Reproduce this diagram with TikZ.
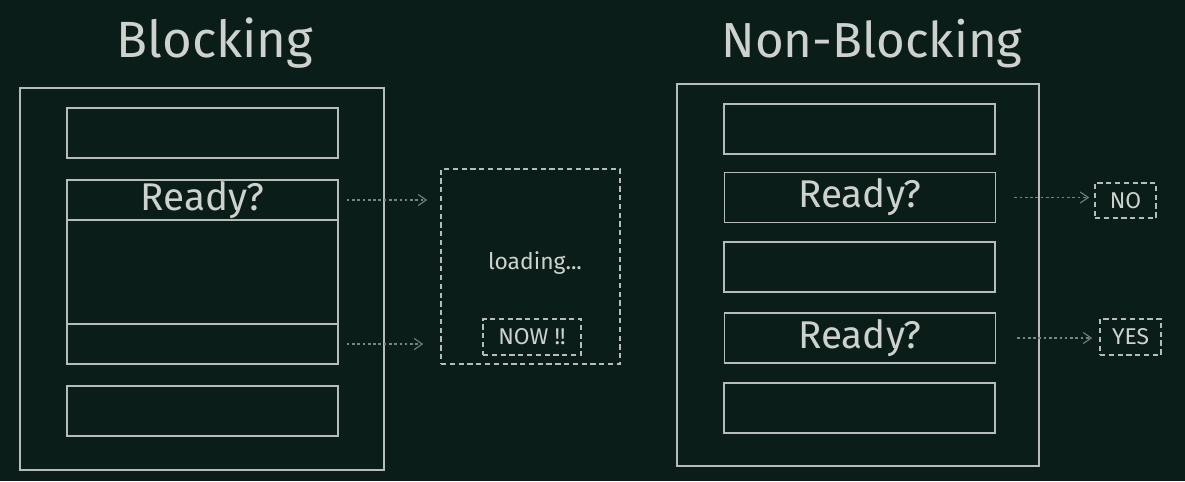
\documentclass[tikz,border=0pt]{standalone}
\usepackage{fontspec}
\setmainfont{Fira Sans}
\usetikzlibrary{arrows.meta, positioning}
\definecolor{mybg}{RGB}{11,29,24}
\definecolor{myline}{RGB}{182,188,184}
\definecolor{myarrow}{RGB}{118,134,128}
\definecolor{mytext}{RGB}{206,210,206}
\tikzset{
  frame/.style={draw=myline, line width=1pt},
  row/.style={rectangle, draw=myline, line width=1pt, inner sep=0pt,
    minimum width=5.42cm, minimum height=1cm, text=mytext,
    font=\fontsize{22}{26}\selectfont},
  waitbox/.style={rectangle, draw=myline, line width=1pt, inner sep=0pt,
    dash pattern=on 3pt off 2pt},
  tag/.style={rectangle, draw=myline, line width=1pt, inner sep=0pt,
    dash pattern=on 3pt off 2pt, minimum width=1.22cm, minimum height=0.7cm,
    text=mytext, font=\fontsize{13}{15}\selectfont},
  dotarrow/.style={-{Straight Barb[length=1.6mm, width=2.2mm]}, draw=myarrow,
    line width=0.6pt, dash pattern=on 1.5pt off 1.5pt},
  title/.style={text=mytext, anchor=base, font=\fontsize{29}{34}\selectfont}
}

\begin{document}
\begin{tikzpicture}[x=0.02cm, y=-0.02cm]
  \useasboundingbox[fill=mybg] (0,0) rectangle (1185,481);

  % --- BLOCKING ---
  \node[title] (b_title) at (215,57) {Blocking};
  \draw[frame] (20,88) rectangle (384,470);

  \node[row] (b_top) at (202.5,133) {};
  \node[row, minimum height=0.8cm] (b_ready) at (202.5,200) {Ready?};
  \node[row, minimum height=2.08cm] (b_mid) at (202.5,272) {};
  \node[row, minimum height=0.8cm] (b_now) at (202.5,344) {};
  \node[row] (b_bot) at (202.5,411) {};

  \node[waitbox, minimum width=3.58cm, minimum height=3.9cm] (b_wait) at (530.5,266.5) {};
  \node[text=mytext, font=\fontsize{13}{15}\selectfont] (b_loading) at (535,263) {loading...};
  \node[tag, minimum width=1.96cm, minimum height=0.72cm] (b_nowtag) at (532,337) {NOW !!};

  \draw[dotarrow, shorten <=0.16cm, shorten >=0.26cm] (b_ready.east) -- (b_ready.east -| b_wait.west);
  \draw[dotarrow, shorten <=0.16cm, shorten >=0.34cm] (b_now.east) -- (b_now.east -| b_wait.west);

  % --- NON-BLOCKING ---
  \node[title, font=\fontsize{28}{34}\selectfont] (n_title) at (872,57) {Non-Blocking};
  \draw[frame] (677,84) rectangle (1039,466);

  \node[row] (n_row1) at (859.5,129) {};
  \node[row] (n_ready1) at (860,197.5) {Ready?};
  \node[row] (n_row3) at (859.5,267) {};
  \node[row] (n_ready2) at (860,338) {Ready?};
  \node[row] (n_row5) at (859.5,408) {};

  \node[tag] (n_no) at (1125.5,200.5) {NO};
  \node[tag, minimum height=0.72cm] (n_yes) at (1130.5,337) {YES};

  \draw[dotarrow, shorten <=0.36cm, shorten >=0.1cm] (n_ready1.east) -- (n_ready1.east -| n_no.west);
  \draw[dotarrow, shorten <=0.42cm, shorten >=0.14cm] (n_ready2.east) -- (n_ready2.east -| n_yes.west);
\end{tikzpicture}
\end{document}
